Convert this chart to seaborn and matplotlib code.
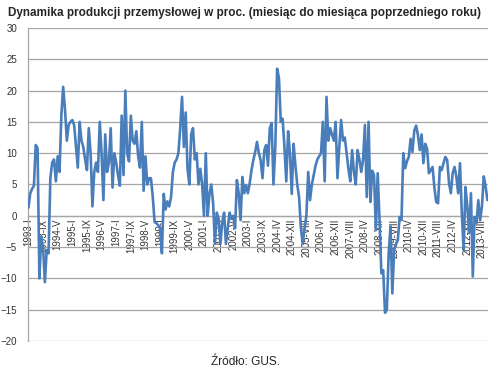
import numpy as np
import pandas as pd
import matplotlib
matplotlib.use("Agg")
import matplotlib.pyplot as plt
import seaborn as sns

# monthly index values (% y/y)
values = [
    1.3, 3.6, 4.3, 4.8, 11.3, 10.8, -10.0, -3.3, -5.0, -10.6,
    -5.5, -6.0, 6.0, 8.5, 9.0, 5.5, 9.5, 7.0, 16.0, 20.6,
    17.0, 12.0, 14.5, 15.0, 15.3, 14.5, 11.0, 7.7, 15.0, 12.0,
    11.0, 9.0, 7.3, 14.0, 10.0, 1.5, 7.0, 8.5, 7.0, 15.0,
    10.0, 2.5, 13.0, 7.0, 8.5, 14.0, 4.5, 10.0, 8.5, 6.5,
    4.8, 16.0, 6.5, 20.0, 10.0, 8.7, 16.0, 12.0, 11.5, 13.5,
    9.5, 7.7, 15.0, 4.0, 9.5, 5.0, 6.0, 6.0, 3.0, -1.0,
    -1.2, -1.5, -2.0, -6.0, 3.5, 1.0, 2.3, 1.5, 3.0, 7.0,
    8.5, 9.0, 10.0, 14.0, 19.0, 11.0, 16.5, 7.5, 5.0, 13.0,
    14.0, 9.0, 10.0, 5.0, 7.5, 5.0, 0.0, 10.0, 0.0, 3.5,
    5.0, 2.0, -4.5, 0.5, -0.5, -4.5, -1.0, 0.5, -4.5, -2.0,
    0.5, -0.5, 0.0, -2.0, 5.7, 3.6, -0.7, 6.2, 3.6, 4.9,
    3.6, 5.2, 7.3, 8.9, 10.2, 11.8, 10.0, 8.9, 6.0, 10.5,
    11.3, 8.0, 14.0, 14.8, 5.0, 11.0, 23.5, 22.0, 15.0, 15.5,
    11.0, 5.5, 13.5, 10.0, 3.5, 11.5, 8.0, 5.0, 3.0, -2.0,
    -4.5, -2.0, 0.0, 7.0, 2.5, 5.0, 6.5, 8.0, 9.0, 9.5,
    10.0, 15.0, 5.5, 19.0, 12.0, 14.0, 13.0, 12.0, 15.0, 6.0,
    11.0, 15.3, 12.0, 12.5, 10.0, 7.5, 5.5, 10.5, 7.0, 5.0,
    10.5, 9.0, 7.0, 9.0, 14.5, 3.0, 15.0, 2.2, 7.2, 6.5,
    -2.3, 6.8, -0.7, -9.2, -8.7, -15.5, -15.0, -6.0, -1.7, -12.4,
    -5.4, -4.5, -3.9, -0.2, -0.7, 10.0, 7.6, 8.7, 9.4, 12.3,
    10.2, 13.6, 14.4, 12.9, 10.5, 13.0, 8.4, 11.5, 10.7, 6.8,
    7.3, 7.8, 4.5, 2.2, 2.0, 7.8, 7.3, 8.4, 9.4, 8.9,
    5.2, 3.6, 6.8, 7.8, 6.3, 3.6, 8.4, 0.4, -5.5, 4.6,
    1.5, -2.8, 3.6, -9.7, -0.2, -1.2, 2.5, -0.7, 1.5, 6.3,
    4.7, 2.5,
]

tick_labels = [
    "1993-I", "1993-IX", "1994-V", "1995-I", "1995-IX", "1996-V",
    "1997-I", "1997-IX", "1998-V", "1999-I", "1999-IX", "2000-V",
    "2001-I", "2001-IX", "2002-V", "2003-I", "2003-IX", "2004-IV",
    "2004-XII", "2005-VIII", "2006-IV", "2006-XII", "2007-VIII", "2008-IV",
    "2008-XII", "2009-VIII", "2010-IV", "2010-XII", "2011-VIII", "2012-IV",
    "2012-XII", "2013-VIII",
]
tick_step = 8

df = pd.DataFrame({"idx": np.arange(len(values)), "value": values})

sns.set_style("white")
plt.rcParams["font.family"] = ["Liberation Sans", "DejaVu Sans"]

fig = plt.figure(figsize=(5.01, 3.71), dpi=100)
ax = fig.add_axes([0.056, 0.081, 0.918, 0.8435])

grid_col = "#a6a6a6"
ax.set_ylim(-20, 30)
ax.set_yticks(range(-20, 31, 5))
ax.yaxis.grid(True, color=grid_col, linewidth=0.9)
ax.set_axisbelow(True)

sns.lineplot(data=df, x="idx", y="value", ax=ax, color="#4a7ebb", linewidth=1.9, zorder=3)

ax.set_xlim(-0.2, len(values) - 0.7)
ax.set_xticks(range(0, tick_step * len(tick_labels), tick_step))
ax.set_xticklabels(tick_labels)
ax.tick_params(axis="x", length=0, pad=2, labelrotation=90,
               labelsize=6.9, labelcolor="#333333")
ax.tick_params(axis="y", length=0, pad=8, labelsize=7, labelcolor="#333333")

ax.spines["bottom"].set_position(("data", 0))
ax.spines["bottom"].set_color(grid_col)
ax.spines["bottom"].set_linewidth(0.9)
ax.spines["left"].set_color(grid_col)
ax.spines["left"].set_linewidth(0.9)
ax.spines["top"].set_visible(False)
ax.spines["right"].set_visible(False)
ax.set_xlabel("")
ax.set_ylabel("")

fig.text(0.016, 0.965, "Dynamika produkcji przemysłowej w proc. (miesiąc do miesiąca poprzedniego roku)",
         fontsize=8.5, fontweight="bold", ha="left", va="center")
fig.text(0.49, 0.025, "Źródło: GUS.", fontsize=8.6, ha="center", va="center")

fig.savefig("out.png", dpi=100)
